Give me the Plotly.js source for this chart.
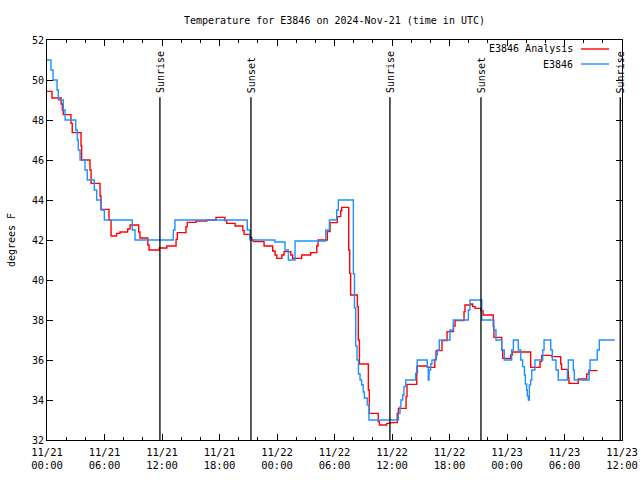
<!DOCTYPE html>
<html>
<head>
<meta charset="utf-8">
<script src="https://cdn.plot.ly/plotly-3.0.1.min.js"></script>
<style>html,body{margin:0;padding:0;background:#fff}#chart{width:640px;height:480px}</style>
</head>
<body>
<div id="chart"></div>
<script>
// ---- data ----
var blueName = 'E3846';
var blueTime = ['2024-11-21 00:00','2024-11-21 00:25','2024-11-21 00:38','2024-11-21 01:03','2024-11-21 01:11','2024-11-21 01:42','2024-11-21 01:53','2024-11-21 03:00','2024-11-21 03:10','2024-11-21 03:16','2024-11-21 03:27','2024-11-21 03:58','2024-11-21 04:12','2024-11-21 04:56','2024-11-21 05:11','2024-11-21 05:38','2024-11-21 05:59','2024-11-21 08:54','2024-11-21 09:11','2024-11-21 13:11','2024-11-21 13:21','2024-11-21 20:54','2024-11-21 21:11','2024-11-21 23:47','2024-11-22 00:50','2024-11-22 01:11','2024-11-22 01:53','2024-11-22 05:05','2024-11-22 05:28','2024-11-22 06:14','2024-11-22 06:24','2024-11-22 07:58','2024-11-22 08:05','2024-11-22 08:13','2024-11-22 08:21','2024-11-22 08:30','2024-11-22 08:40','2024-11-22 08:50','2024-11-22 09:00','2024-11-22 09:07','2024-11-22 09:25','2024-11-22 09:36','2024-11-22 12:40','2024-11-22 12:50','2024-11-22 12:56','2024-11-22 13:07','2024-11-22 13:15','2024-11-22 13:26','2024-11-22 14:28','2024-11-22 14:35','2024-11-22 14:38','2024-11-22 15:41','2024-11-22 15:47','2024-11-22 15:52','2024-11-22 16:02','2024-11-22 16:10','2024-11-22 16:36','2024-11-22 16:44','2024-11-22 16:56','2024-11-22 18:03','2024-11-22 18:24','2024-11-22 19:58','2024-11-22 20:08','2024-11-22 21:22','2024-11-22 22:38','2024-11-22 22:51','2024-11-22 23:27','2024-11-22 23:43','2024-11-23 00:29','2024-11-23 00:40','2024-11-23 01:11','2024-11-23 01:26','2024-11-23 01:38','2024-11-23 01:49','2024-11-23 01:55','2024-11-23 02:03','2024-11-23 02:07','2024-11-23 02:14','2024-11-23 02:20','2024-11-23 02:28','2024-11-23 02:35','2024-11-23 02:55','2024-11-23 03:44','2024-11-23 03:52','2024-11-23 04:34','2024-11-23 04:44','2024-11-23 05:07','2024-11-23 05:21','2024-11-23 06:18','2024-11-23 06:24','2024-11-23 06:55','2024-11-23 07:01','2024-11-23 08:34','2024-11-23 08:40','2024-11-23 09:25','2024-11-23 09:38','2024-11-23 11:14'];
var blueTemp = [51.0,50.5,50.0,49.5,49.0,48.5,48.0,47.5,47.0,46.5,46.0,45.5,45.0,44.5,44.0,43.5,43.0,42.5,42.0,42.5,43.0,42.5,42.0,41.9,41.5,41.0,41.95,42.5,43.0,43.5,44.0,40.3,38.6,36.7,36.0,35.3,35.0,34.75,34.4,34.1,33.75,33.0,33.33,33.67,34.0,34.25,34.67,35.0,35.33,35.67,36.0,35.67,35.0,35.5,35.8,36.0,36.25,36.5,37.0,37.5,38.0,38.5,39.0,38.0,37.5,37.0,36.5,36.0,36.5,37.0,36.5,36.0,35.67,35.25,34.8,34.5,34.2,34.0,34.75,35.0,35.5,36.0,36.5,37.0,36.5,36.0,35.5,35.0,35.5,36.0,35.5,35.0,35.5,36.0,36.5,37.0,37.0];

var redName = 'E3846 Analysis';
var redTime = ['2024-11-21 00:00','2024-11-21 00:31','2024-11-21 01:28','2024-11-21 01:36','2024-11-21 01:42','2024-11-21 02:30','2024-11-21 02:38','2024-11-21 03:33','2024-11-21 03:37','2024-11-21 04:29','2024-11-21 04:36','2024-11-21 05:32','2024-11-21 05:38','2024-11-21 06:28','2024-11-21 06:41','2024-11-21 07:16','2024-11-21 07:37','2024-11-21 08:25','2024-11-21 08:40','2024-11-21 09:34','2024-11-21 09:42','2024-11-21 10:31','2024-11-21 10:39','2024-11-21 11:43','2024-11-21 12:30','2024-11-21 13:28','2024-11-21 13:36','2024-11-21 14:30','2024-11-21 14:38','2024-11-21 15:33','2024-11-21 16:40','2024-11-21 17:38','2024-11-21 18:34','2024-11-21 18:45','2024-11-21 19:38','2024-11-21 20:26','2024-11-21 20:34','2024-11-21 21:09','2024-11-21 21:22','2024-11-21 21:32','2024-11-21 22:39','2024-11-21 23:33','2024-11-21 23:48','2024-11-21 23:59','2024-11-22 00:30','2024-11-22 00:44','2024-11-22 01:26','2024-11-22 01:38','2024-11-22 02:35','2024-11-22 03:31','2024-11-22 04:09','2024-11-22 04:17','2024-11-22 05:15','2024-11-22 05:32','2024-11-22 06:18','2024-11-22 06:39','2024-11-22 06:45','2024-11-22 07:29','2024-11-22 07:35','2024-11-22 07:41','2024-11-22 08:23','2024-11-22 08:29','2024-11-22 08:36','2024-11-22 09:32','2024-11-22 09:38','2024-11-22 10:34','2024-11-22 10:41','2024-11-22 11:27','2024-11-22 11:48','2024-11-22 12:33','2024-11-22 12:40','2024-11-22 13:28','2024-11-22 13:34','2024-11-22 14:35','2024-11-22 14:38','2024-11-22 15:41','2024-11-22 16:28','2024-11-22 16:36','2024-11-22 17:13','2024-11-22 17:45','2024-11-22 18:25','2024-11-22 18:35','2024-11-22 19:31','2024-11-22 19:37','2024-11-22 20:13','2024-11-22 20:25','2024-11-22 20:40','2024-11-22 21:15','2024-11-22 21:30','2024-11-22 22:34','2024-11-22 22:38','2024-11-22 23:27','2024-11-22 23:33','2024-11-23 00:23','2024-11-23 00:33','2024-11-23 02:28','2024-11-23 03:27','2024-11-23 03:37','2024-11-23 04:40','2024-11-23 05:36','2024-11-23 05:42','2024-11-23 06:24','2024-11-23 06:28','2024-11-23 07:26','2024-11-23 08:19','2024-11-23 08:33','2024-11-23 09:27'];
var redTemp = [49.43,49.1,48.8,48.5,48.27,47.83,47.37,46.7,46.0,45.5,44.83,44.2,43.53,43.0,42.2,42.33,42.4,42.55,42.75,42.4,42.1,41.75,41.5,41.6,41.7,42.03,42.37,42.67,42.88,42.95,43.0,43.13,42.97,42.83,42.7,42.47,42.28,42.13,42.0,41.92,41.7,41.45,41.25,41.08,41.25,41.42,41.25,41.08,41.25,41.37,41.7,42.0,42.42,42.87,43.17,43.47,43.63,41.5,40.33,39.25,38.67,37.0,35.8,34.5,33.33,32.92,32.75,32.83,32.87,33.33,33.58,34.17,34.78,35.33,35.7,35.63,36.03,36.47,36.97,37.42,37.7,37.97,38.42,38.75,38.8,38.67,38.58,38.47,38.25,37.67,37.13,36.5,36.08,36.25,36.4,35.63,35.92,36.23,36.17,35.8,35.53,35.1,34.83,35.05,35.3,35.47,35.47];

var sunEventTime = ['2024-11-21 11:47','2024-11-21 21:17','2024-11-22 11:47','2024-11-22 21:17','2024-11-23 11:49'];
var sunEventLabel = ['Sunrise','Sunset','Sunrise','Sunset','Sunrise'];

var chartTitle = 'Temperature for E3846 on 2024-Nov-21 (time in UTC)';
var yTitle = 'degrees F';
var xStart = '2024-11-21 00:00';
var xEnd = '2024-11-23 12:00';

// ---- styles ----
var FONT = 'DejaVu Sans Mono, Liberation Mono, monospace';
var RED = '#ff0000';
var BLUE = '#1e90ff';

var traces = [
  {x: redTime, y: redTemp, name: redName, mode: 'lines', line: {color: RED, width: 1.4, shape: 'hv'}},
  {x: blueTime, y: blueTemp, name: blueName, mode: 'lines', line: {color: BLUE, width: 1.4, shape: 'hv'}}
];

var shapes = [];
var annotations = [];
sunEventTime.forEach(function (t, i) {
  shapes.push({type: 'line', xref: 'x', yref: 'paper', x0: t, x1: t, y0: 0, y1: 0.857,
               line: {color: '#000', width: 1.3}});
  annotations.push({xref: 'x', yref: 'paper', x: t, y: 0.862, text: sunEventLabel[i],
                    textangle: -90, showarrow: false, xanchor: 'center', yanchor: 'bottom',
                    font: {family: FONT, size: 10, color: '#000'}});
});

// legend drawn gnuplot-style (text left, sample right)
var legendY = [0.9775, 0.94];
traces.forEach(function (tr, i) {
  annotations.push({xref: 'paper', yref: 'paper', x: 0.9185, y: legendY[i], text: tr.name,
                    showarrow: false, xanchor: 'right', yanchor: 'middle',
                    font: {family: FONT, size: 10, color: '#000'}});
  shapes.push({type: 'line', xref: 'paper', yref: 'paper', x0: 0.9285, x1: 0.9775,
               y0: legendY[i], y1: legendY[i], line: {color: tr.line.color, width: 1.4}});
});

var layout = {
  width: 640, height: 480,
  margin: {l: 47, r: 18, t: 40, b: 40, pad: 0},
  paper_bgcolor: '#fff', plot_bgcolor: '#fff',
  font: {family: FONT, size: 10, color: '#000'},
  showlegend: false,
  title: {text: chartTitle, x: 0.5, xref: 'paper', xanchor: 'center', y: 0.958, yref: 'container', yanchor: 'middle',
          font: {family: FONT, size: 10, color: '#000'}},
  xaxis: {
    type: 'date', range: [xStart, xEnd], tick0: xStart, dtick: 6 * 3600 * 1000,
    tickformat: '%m/%d<br>%H:%M', ticks: 'inside', ticklen: 6, tickcolor: '#000',
    ticklabelstandoff: 2,
    showline: true, linecolor: '#000', linewidth: 1, mirror: 'allticks',
    showgrid: false, zeroline: false, fixedrange: true,
    minor: {dtick: 2 * 3600 * 1000, ticks: 'inside', ticklen: 3, tickcolor: '#000', showgrid: false},
    tickfont: {family: FONT, size: 10.5, color: '#000'}
  },
  yaxis: {
    range: [32, 52], dtick: 2, tick0: 32, ticks: 'inside', ticklen: 6, tickcolor: '#000',
    showline: true, linecolor: '#000', linewidth: 1, mirror: 'allticks',
    showgrid: false, zeroline: false, fixedrange: true,
    tickfont: {family: FONT, size: 10, color: '#000'},
    title: {text: yTitle, font: {family: FONT, size: 10, color: '#000'}, standoff: 14}
  },
  shapes: shapes,
  annotations: annotations
};

Plotly.newPlot('chart', traces, layout, {displayModeBar: false, staticPlot: true});
</script>
</body>
</html>
